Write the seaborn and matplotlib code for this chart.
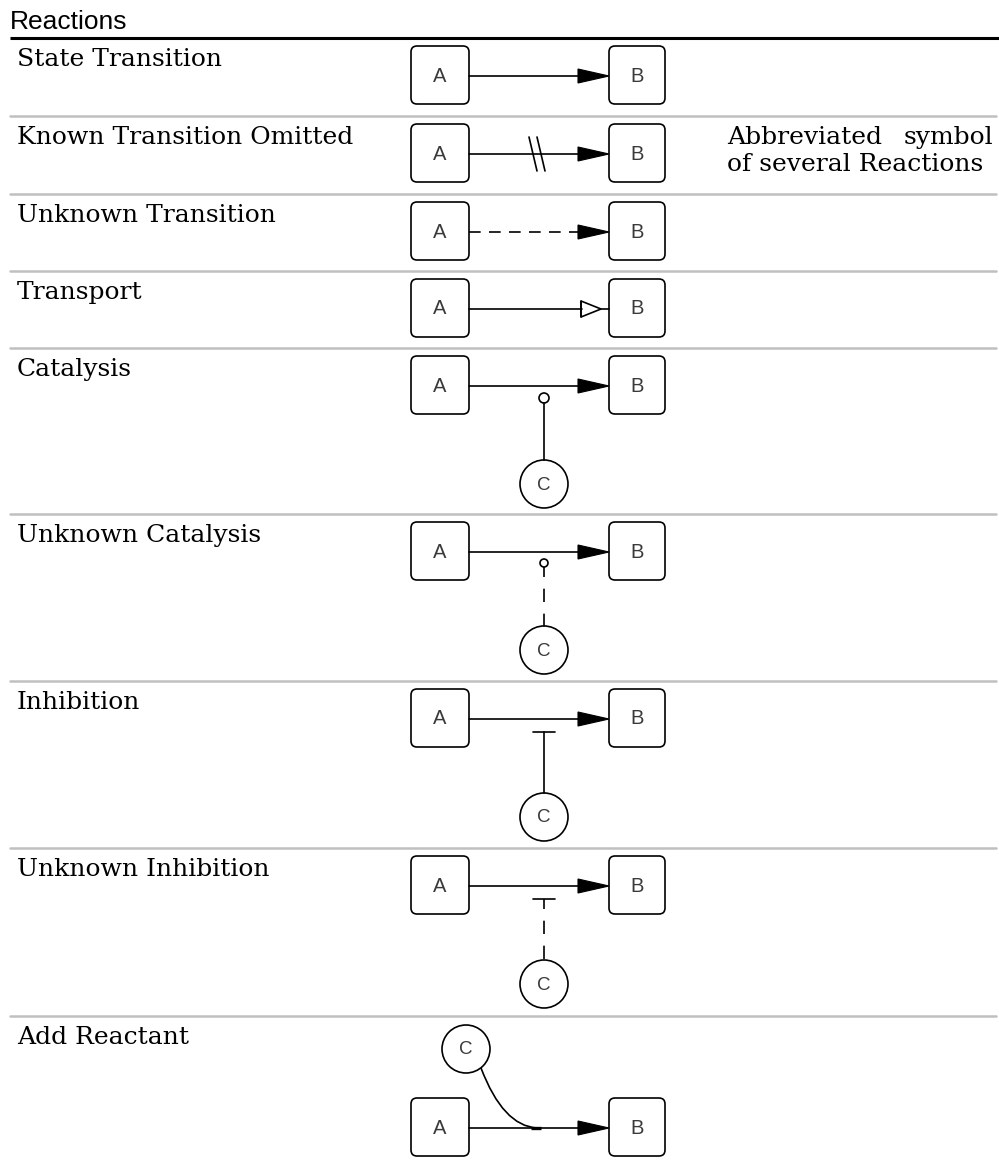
import numpy as np
import pandas as pd
import matplotlib.pyplot as plt
import seaborn as sns
from matplotlib.patches import FancyBboxPatch, Circle, Polygon, PathPatch
from matplotlib.path import Path

# ---- table content ----
header = "Reactions"
labels = ["State Transition", "Known Transition Omitted", "Unknown Transition",
          "Transport", "Catalysis", "Unknown Catalysis", "Inhibition",
          "Unknown Inhibition", "Add Reactant"]
notes = ["", "Abbreviated symbol\nof several Reactions", "", "", "", "", "", "", ""]
row_heights = [78, 78, 77, 77, 166, 167, 167, 168, 159]
edge_style = ["solid", "solid", "dashed", "solid", "solid", "solid", "solid", "solid", "solid"]
arrow_head = ["filled", "filled", "filled", "open", "filled", "filled", "filled", "filled", "filled"]
modifier = ["", "omitted", "", "", "catalysis", "unknown_catalysis",
            "inhibition", "unknown_inhibition", "reactant"]

sns.set_theme(style="white")
plt.rcParams['font.family'] = ['DejaVu Serif']
plt.rcParams['text.color'] = 'black'

fig = plt.figure(figsize=(9.99, 11.75), dpi=100)
ax = fig.add_axes([0, 0, 1, 1])

tops = 38 + np.concatenate([[0], np.cumsum(row_heights)[:-1]])

# header
ax.text(10, 29, header, family="Liberation Sans", fontsize=19, va="baseline")
ax.plot([10, 999], [38, 38], color="black", lw=2.2, solid_capstyle="butt")

ax_l, ax_r = 411, 469
bx_l, bx_r = 609, 665
lw = 1.2
fs = 18

def box(x0, x1, yt, letter):
    p = FancyBboxPatch((x0 + 6, yt + 6), (x1 - x0) - 12, 46,
                       boxstyle="round,pad=6", fc="white", ec="black", lw=lw)
    ax.add_patch(p)
    ax.text((x0 + x1) / 2, yt + 30, letter, family="Liberation Sans",
            fontsize=14.5, color="#3a3a3a", ha="center", va="center")

def circ(cx, cy):
    ax.add_patch(Circle((cx, cy), 24, fc="white", ec="black", lw=lw))
    ax.text(cx, cy + 1, "C", family="Liberation Sans", fontsize=13.5,
            color="#3a3a3a", ha="center", va="center")

edges = []
for i, (lab, top, h) in enumerate(zip(labels, tops, row_heights)):
    if i > 0:
        ax.plot([10, 996], [top, top], color="#c0c0c0", lw=1.8)
    ax.text(17, top + 28, lab, fontsize=fs, va="baseline")
    if notes[i]:
        l1, l2 = notes[i].split("\n")
        w1, w2 = l1.split(" ")
        ax.text(727, top + 28, w1, fontsize=fs, va="baseline")
        ax.text(993, top + 28, w2, fontsize=fs, va="baseline", ha="right")
        ax.text(727, top + 55, l2, fontsize=fs, va="baseline")

    yt = top + 82 if modifier[i] == "reactant" else top + 8
    yc = yt + 30
    box(ax_l, ax_r, yt, "A")
    box(bx_l, bx_r, yt, "B")
    end = 580 if arrow_head[i] == "filled" else 582
    edges.append(pd.DataFrame({"x": [ax_r, end], "y": [yc, yc], "row": i,
                               "style": edge_style[i]}))
    if arrow_head[i] == "filled":
        ax.add_patch(Polygon([[578, yc - 7], [bx_l, yc], [578, yc + 7]],
                             closed=True, fc="black", ec="black", lw=0.8))
    else:
        ax.add_patch(Polygon([[581, yc - 8], [601, yc], [581, yc + 8]],
                             closed=True, fc="white", ec="black", lw=lw))
        ax.plot([581, 581], [yc - 8, yc + 8], color="black", lw=lw)
        ax.plot([601, bx_l], [yc, yc], color="black", lw=lw)

    m = modifier[i]
    mx = 544
    if m == "omitted":
        for dx in (0, 8):
            ax.plot([529 + dx, 537 + dx], [yc - 17, yc + 17], color="black", lw=lw)
    elif m in ("catalysis", "unknown_catalysis", "inhibition", "unknown_inhibition"):
        cy = top + 136
        circ(mx, cy)
        dashed = m.startswith("unknown")
        if "catalysis" in m:
            r = 5 if m == "catalysis" else 4
            ax.add_patch(Circle((mx, yc + 7 + r), r, fc="white", ec="black", lw=lw))
            y0 = yc + 7 + 2 * r
        else:
            ax.plot([mx - 11, mx + 11], [yc + 13, yc + 13], color="black", lw=lw)
            y0 = yc + 13
        if dashed:
            ax.plot([mx, mx], [y0, cy - 24], color="black", lw=lw,
                    linestyle=(2, (8, 7)))
        else:
            ax.plot([mx, mx], [y0, cy - 24], color="black", lw=lw)
    elif m == "reactant":
        cx, cy = 466, top + 33
        circ(cx, cy)
        verts = [(481, cy + 19), (503, yc - 2), (537, yc)]
        ax.add_patch(PathPatch(Path(verts, [Path.MOVETO, Path.CURVE3, Path.CURVE3]),
                               fc="none", ec="black", lw=lw))
        ax.plot([531, 541], [yc, yc], color="black", lw=2.4, solid_capstyle="butt")

edge_df = pd.concat(edges, ignore_index=True)
sns.lineplot(data=edge_df, x="x", y="y", units="row", estimator=None, style="style",
             dashes={"solid": "", "dashed": (7, 5)}, color="black", lw=lw,
             legend=False, ax=ax, sort=False)
ax.set_xlim(0, 999)
ax.set_ylim(1175, 0)
ax.axis("off")

fig.savefig("out.png", dpi=100)
